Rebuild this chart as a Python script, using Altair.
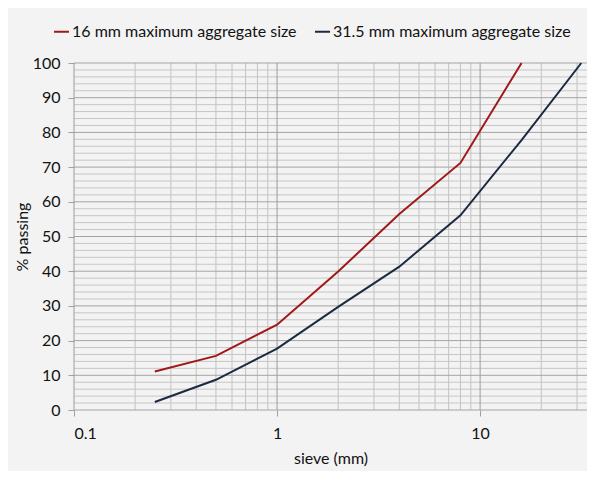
import altair as alt
import pandas as pd

# data
sieve_16 = [0.25, 0.5, 1, 2, 4, 8, 16]
pass_16 = [11.1, 15.6, 24.6, 39.9, 56.5, 71.2, 100]
sieve_31 = [0.25, 0.5, 1, 2, 4, 8, 16, 31.5]
pass_31 = [2.3, 8.7, 17.7, 29.7, 41.3, 56.1, 77.8, 100]
series_names = ["16 mm maximum aggregate size", "31.5 mm maximum aggregate size"]
series_colors = ["#a01818", "#1b2a42"]

x_major = [0.1, 1, 10]
x_minor = [0.2, 0.3, 0.4, 0.5, 0.6, 0.7, 0.8, 0.9,
           2, 3, 4, 5, 6, 7, 8, 9, 20, 30]
y_major = list(range(0, 101, 10))
y_minor = [v for v in range(0, 101, 2) if v % 10 != 0]

XMIN, XMAX = 0.1, 33.6

df = pd.DataFrame(
    [{"sieve": s, "pct": p, "series": series_names[0], "order": i} for i, (s, p) in enumerate(zip(sieve_16, pass_16))]
    + [{"sieve": s, "pct": p, "series": series_names[1], "order": i} for i, (s, p) in enumerate(zip(sieve_31, pass_31))]
)

xscale = alt.Scale(type="log", domain=[XMIN, XMAX], nice=False, zero=False)
yscale = alt.Scale(domain=[0, 100], nice=False)

FONT = "Lato"

vminor = alt.Chart(pd.DataFrame({"v": x_minor})).mark_rule(color="#c2c2c2", strokeWidth=1).encode(
    x=alt.X("v:Q", scale=xscale, axis=None))
vmajor = alt.Chart(pd.DataFrame({"v": x_major})).mark_rule(color="#9c9c9c", strokeWidth=1).encode(
    x=alt.X("v:Q", scale=xscale, axis=None))
hminor = alt.Chart(pd.DataFrame({"v": y_minor})).mark_rule(color="#c6c6c6", strokeWidth=1).encode(
    y=alt.Y("v:Q", scale=yscale, axis=None))
hmajor = alt.Chart(pd.DataFrame({"v": y_major})).mark_rule(color="#a4a4a4", strokeWidth=1).encode(
    y=alt.Y("v:Q", scale=yscale, axis=None))

lines = alt.Chart(df).mark_line(strokeWidth=2).encode(
    x=alt.X("sieve:Q", scale=xscale,
            axis=alt.Axis(values=x_major, title="sieve (mm)", grid=False, domain=False,
                          tickColor="#a0a0a0", tickSize=6, labelPadding=9,
                          labelExpr="datum.value < 0.5 ? '0.1' : format(datum.value, 'd')",
                          titlePadding=9)),
    y=alt.Y("pct:Q", scale=yscale,
            axis=alt.Axis(values=y_major, title="% passing", grid=False, domain=False,
                          tickColor="#a0a0a0", tickSize=6, labelPadding=8, titlePadding=2)),
    color=alt.Color("series:N",
                    scale=alt.Scale(domain=series_names, range=series_colors),
                    legend=alt.Legend(title=None, orient="none", direction="horizontal",
                                      legendX=-21, legendY=-40, symbolType="stroke",
                                      symbolSize=225, symbolStrokeWidth=2, labelOffset=2,
                                      columnPadding=14, labelFontSize=16, labelFont=FONT,
                                      labelColor="#111111", labelLimit=400)),
    order="order:Q",
)

chart = alt.layer(vminor, hminor, vmajor, hmajor, lines).resolve_axis(
    x="independent", y="independent"
).properties(
    width=513, height=347,
    autosize=alt.AutoSizeParams(type="none"),
    padding={"left": 66, "top": 55, "right": 0, "bottom": 61},
    background="#f3f3f3",
).configure_view(stroke=None).configure_axis(
    labelFont=FONT, titleFont=FONT, labelFontSize=16, titleFontSize=16,
    titleFontWeight="normal", labelColor="#111111", titleColor="#111111",
)

chart.save("out.html", embed_options={"renderer": "svg", "actions": False})
